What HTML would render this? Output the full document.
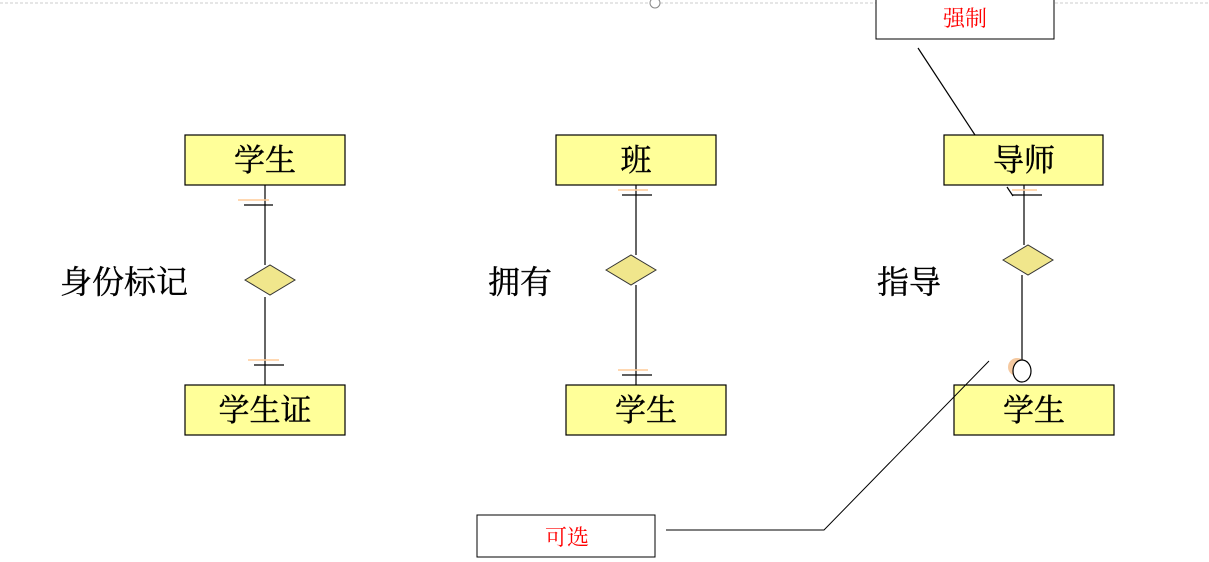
<!DOCTYPE html>
<html><head><meta charset="utf-8"><style>
html,body{margin:0;padding:0;background:#fff;width:1209px;height:562px;overflow:hidden}
svg{display:block}
.t{font-family:"Liberation Serif","Noto Serif CJK SC",serif}
</style></head><body>
<svg width="1209" height="562" xmlns="http://www.w3.org/2000/svg">
<line x1="0" y1="3" x2="1209" y2="3" stroke="#ccc" stroke-dasharray="3,2"/>
<circle cx="655" cy="3" r="5" fill="#fff" stroke="#888"/>
<g stroke="#000" stroke-width="1.2" fill="#ffff99">
<rect x="185" y="135" width="160" height="50"/>
<rect x="185" y="385" width="160" height="50"/>
<rect x="556" y="135" width="160" height="50"/>
<rect x="566" y="385" width="160" height="50"/>
<rect x="944" y="135" width="159" height="50"/>
<rect x="954" y="385" width="160" height="50"/>
</g>
<g stroke="#000" stroke-width="1" fill="#fff">
<rect x="876" y="-2" width="178" height="41"/>
<rect x="477" y="515" width="178" height="42"/>
</g>
<g stroke="#000" stroke-width="1.2" fill="none">
<line x1="265" y1="185" x2="265" y2="265"/>
<line x1="265" y1="297" x2="265" y2="385"/>
<line x1="244" y1="205" x2="273" y2="205"/>
<line x1="254" y1="365" x2="284" y2="365"/>
<line x1="636" y1="185" x2="636" y2="255"/>
<line x1="636" y1="285" x2="636" y2="385"/>
<line x1="622" y1="195" x2="652" y2="195"/>
<line x1="622" y1="375" x2="652" y2="375"/>
<line x1="1024" y1="185" x2="1024" y2="245"/>
<line x1="1012" y1="195" x2="1042" y2="195"/>
<line x1="1007" y1="187" x2="1013" y2="196"/>
<line x1="1022" y1="275" x2="1022" y2="360"/>
<line x1="918" y1="48" x2="975" y2="135"/>
<polyline points="989,361 824,530 666,530" stroke-width="1"/>
</g>
<g stroke="#fc9" stroke-width="1.5">
<line x1="238" y1="200" x2="269" y2="200"/>
<line x1="248" y1="360" x2="279" y2="360"/>
<line x1="618" y1="190" x2="648" y2="190"/>
<line x1="618" y1="370" x2="648" y2="370"/>
<line x1="1012" y1="190" x2="1037" y2="190"/>
</g>
<circle cx="1017" cy="367" r="9" fill="#f5c9a0"/>
<g stroke="#333" stroke-width="1" fill="#f0e68c">
<polygon points="245,280 270,265 295,280 270,295"/>
<polygon points="606,270 631,255 656,270 631,285"/>
<polygon points="1003,260 1028,245 1053,260 1028,275"/>
</g>
<ellipse cx="1022" cy="371" rx="9" ry="11" fill="#fff" stroke="#000" stroke-width="1.2"/>
<g class="t" font-size="31" text-anchor="middle" fill="#000" stroke="#000" stroke-width="0.4">
<text x="265" y="171">学生</text>
<text x="265" y="421">学生证</text>
<text x="636" y="171">班</text>
<text x="646" y="421">学生</text>
<text x="1024" y="171">导师</text>
<text x="1034" y="421">学生</text>
</g>
<g class="t" font-size="32" fill="#000" stroke="#000" stroke-width="0.4">
<text x="60" y="293">身份标记</text>
<text x="488" y="293">拥有</text>
<text x="877" y="293">指导</text>
</g>
<g class="t" font-size="22" text-anchor="middle" fill="#f00">
<text x="965" y="26">强制</text>
<text x="567" y="545">可选</text>
</g>
</svg>
</body></html>
